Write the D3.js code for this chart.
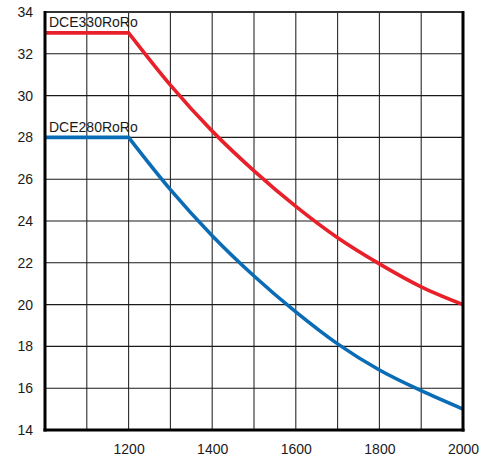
<!DOCTYPE html>
<html>
<head>
<meta charset="utf-8">
<script src="https://cdn.jsdelivr.net/npm/d3@7"></script>
<style>
  body { margin: 0; background: #fff; }
  svg text { font-family: "Liberation Sans", Arial, sans-serif; font-size: 14px; fill: #1a1a1a; }
</style>
</head>
<body>
<svg width="495" height="459"></svg>
<script>
(function (d3) {
  'use strict';

  // speed values (x) read at every 100
  const speeds = [1000, 1100, 1200, 1300, 1400, 1500, 1600, 1700, 1800, 1900, 2000];
  const dce330 = [33, 33, 33, 30.5, 28.3, 26.4, 24.7, 23.2, 21.95, 20.85, 20];
  const dce280 = [28, 28, 28, 25.5, 23.3, 21.37, 19.65, 18.12, 16.87, 15.88, 15];
  const seriesNames = ['DCE330RoRo', 'DCE280RoRo'];
  const seriesColors = ['#e8202a', '#0a6cb5'];
  const xTickLabels = [1200, 1400, 1600, 1800, 2000];
  const yTickLabels = [14, 16, 18, 20, 22, 24, 26, 28, 30, 32, 34];
  const xGrid = [1100, 1200, 1300, 1400, 1500, 1600, 1700, 1800, 1900];
  const yGrid = [16, 18, 20, 22, 24, 26, 28, 30, 32];

  const svg = d3.select('svg');
  const margin = { top: 12, right: 32, bottom: 29, left: 45 };
  const width = +svg.attr('width');
  const height = +svg.attr('height');
  const innerWidth = width - margin.left - margin.right;
  const innerHeight = height - margin.top - margin.bottom;

  const xScale = d3.scaleLinear().domain([1000, 2000]).range([0, innerWidth]);
  const yScale = d3.scaleLinear().domain([14, 34]).range([innerHeight, 0]);

  const g = svg.append('g')
    .attr('transform', `translate(${margin.left},${margin.top})`);

  // grid
  g.selectAll('.vgrid').data(xGrid).enter().append('line')
    .attr('x1', d => xScale(d)).attr('x2', d => xScale(d))
    .attr('y1', 0).attr('y2', innerHeight)
    .attr('stroke', '#2a2a2a').attr('stroke-width', 1.1);
  g.selectAll('.hgrid').data(yGrid).enter().append('line')
    .attr('y1', d => yScale(d)).attr('y2', d => yScale(d))
    .attr('x1', 0).attr('x2', innerWidth)
    .attr('stroke', '#1a1a1a').attr('stroke-width', 1.1);

  // axes (labels only)
  const xAxis = d3.axisBottom(xScale).tickValues(xTickLabels)
    .tickSize(0).tickPadding(14).tickFormat(d3.format('d'));
  const xAxisG = g.append('g').attr('transform', `translate(0,${innerHeight})`).call(xAxis);
  xAxisG.select('.domain').remove();
  xAxisG.selectAll('text').attr('font-size', 14).attr('font-family', null);

  const yAxis = d3.axisLeft(yScale).tickValues(yTickLabels)
    .tickSize(0).tickPadding(12);
  const yAxisG = g.append('g').call(yAxis);
  yAxisG.select('.domain').remove();
  yAxisG.selectAll('text').attr('font-size', 14).attr('font-family', null);

  // curves: flat part straight, falling part smooth
  const lineGen = d3.line()
    .x(d => xScale(d[0]))
    .y(d => yScale(d[1]))
    .curve(d3.curveMonotoneX);

  const series = [dce330, dce280];
  series.forEach((vals, i) => {
    const pts = speeds.map((s, j) => [s, vals[j]]);
    const bend = speeds.indexOf(1200);
    const falling = lineGen(pts.slice(bend));
    const d = `M${xScale(pts[0][0])},${yScale(pts[0][1])}L` + falling.slice(1);
    g.append('path')
      .attr('d', d)
      .attr('fill', 'none')
      .attr('stroke', seriesColors[i])
      .attr('stroke-width', 3.6)
      .attr('stroke-linejoin', 'miter');

    g.append('text')
      .attr('x', 4)
      .attr('y', yScale(vals[0]) - 5.5)
      .text(seriesNames[i]);
  });

  // frame
  g.append('line').attr('x1', 0).attr('x2', innerWidth).attr('y1', 0).attr('y2', 0)
    .attr('stroke', '#333').attr('stroke-width', 2);
  g.append('line').attr('x1', 0).attr('x2', 0).attr('y1', -1).attr('y2', innerHeight + 1.5)
    .attr('stroke', '#000').attr('stroke-width', 3);
  g.append('line').attr('x1', innerWidth).attr('x2', innerWidth).attr('y1', -1).attr('y2', innerHeight + 1.5)
    .attr('stroke', '#000').attr('stroke-width', 3);
  g.append('line').attr('x1', -1.5).attr('x2', innerWidth + 1.5).attr('y1', innerHeight).attr('y2', innerHeight)
    .attr('stroke', '#000').attr('stroke-width', 3);

}(d3));
</script>
</body>
</html>
